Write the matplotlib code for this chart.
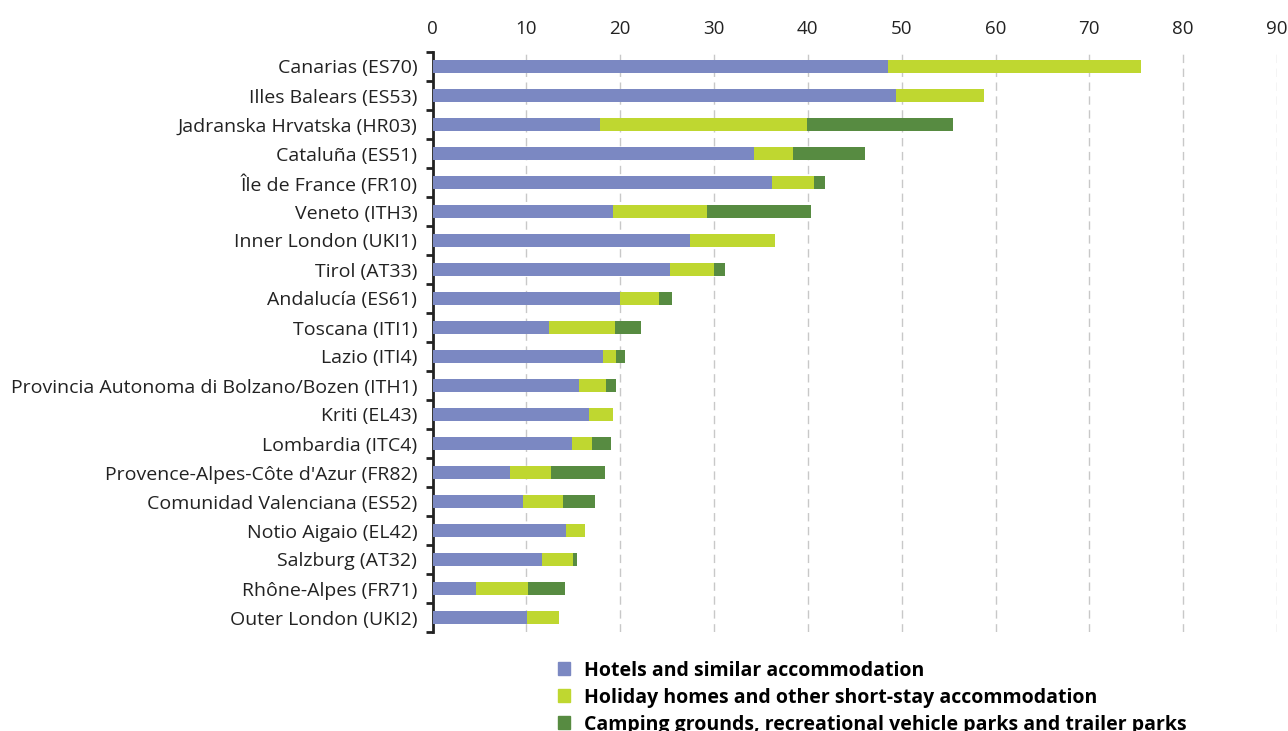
import matplotlib
matplotlib.use("Agg")
import matplotlib.pyplot as plt
from matplotlib.patches import Patch
import numpy as np

plt.rcParams['font.family'] = ['Open Sans', 'DejaVu Sans']

regions = [
    "Canarias (ES70)", "Illes Balears (ES53)", "Jadranska Hrvatska (HR03)",
    "Cataluña (ES51)", "Île de France (FR10)", "Veneto (ITH3)",
    "Inner London (UKI1)", "Tirol (AT33)", "Andalucía (ES61)",
    "Toscana (ITI1)", "Lazio (ITI4)", "Provincia Autonoma di Bolzano/Bozen (ITH1)",
    "Kriti (EL43)", "Lombardia (ITC4)", "Provence-Alpes-Côte d'Azur (FR82)",
    "Comunidad Valenciana (ES52)", "Notio Aigaio (EL42)", "Salzburg (AT32)",
    "Rhône-Alpes (FR71)", "Outer London (UKI2)",
]
hotels = [48.5, 49.4, 17.8, 34.3, 36.2, 19.2, 27.4, 25.3, 20.0, 12.4,
          18.2, 15.6, 16.7, 14.9, 8.3, 9.6, 14.2, 11.7, 4.6, 10.1]
holiday = [27.0, 9.4, 22.1, 4.1, 4.5, 10.1, 9.1, 4.7, 4.1, 7.0,
           1.4, 2.9, 2.5, 2.1, 4.3, 4.3, 2.1, 3.3, 5.6, 3.4]
camping = [0.0, 0.0, 15.6, 7.7, 1.1, 11.0, 0.0, 1.2, 1.4, 2.8,
           0.9, 1.1, 0.0, 2.0, 5.8, 3.4, 0.0, 0.4, 3.9, 0.0]
labels = ["Hotels and similar accommodation",
          "Holiday homes and other short-stay accommodation",
          "Camping grounds, recreational vehicle parks and trailer parks"]
colors = ["#7b88c2", "#bfd730", "#578b41"]

fig = plt.figure(figsize=(12.88, 7.31), dpi=100)
ax = fig.add_axes([432.5 / 1288, 1 - 632 / 731, (1277 - 432.5) / 1288, (632 - 52) / 731])

y = np.arange(len(regions))
h = np.array(hotels)
ho = np.array(holiday)
c = np.array(camping)
ax.barh(y, h, height=0.44, color=colors[0], zorder=3)
ax.barh(y, ho, left=h, height=0.44, color=colors[1], zorder=3)
ax.barh(y, c, left=h + ho, height=0.44, color=colors[2], zorder=3)

ax.set_xlim(0, 90)
ax.set_ylim(len(regions) - 0.5, -0.5)
ax.set_xticks(np.arange(0, 91, 10))
ax.xaxis.tick_top()
ax.tick_params(axis='x', length=0, labelsize=13.5, colors='#222222', pad=10)
for v in range(10, 91, 10):
    ax.axvline(v, color='#c8c8c8', lw=1, ls=(0, (6, 4)), zorder=1)

ax.set_yticks(y)
ax.set_yticklabels(regions)
ax.set_yticks(np.arange(-0.5, len(regions)), minor=True)
ax.tick_params(axis='y', which='major', length=0, labelsize=14, colors='#222222', pad=11)
ax.tick_params(axis='y', which='minor', length=5, width=2, color='#222222')

for s in ['top', 'right', 'bottom']:
    ax.spines[s].set_visible(False)
ax.spines['left'].set_linewidth(2)
ax.spines['left'].set_color('#222222')

handles = [Patch(color=col) for col in colors]
fig.legend(handles, labels, loc='upper left', bbox_to_anchor=(550 / 1288, 1 - 653 / 731),
           frameon=False, handlelength=0.65, handleheight=0.65, handletextpad=0.72,
           labelspacing=0.36, prop={'weight': 'bold', 'size': 14}, borderaxespad=0)

fig.savefig("out.png", dpi=100)
